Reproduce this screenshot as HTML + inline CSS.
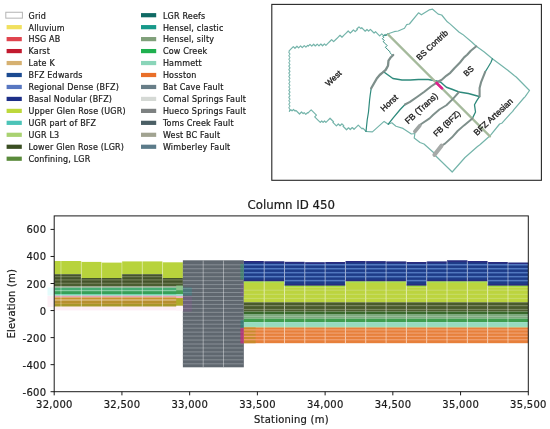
<!DOCTYPE html>
<html><head><meta charset="utf-8"><title>Column ID 450</title>
<style>html,body{margin:0;padding:0;background:#fff;width:550px;height:429px;overflow:hidden}svg{display:block;filter:blur(0.3px)}
text{fill:#1a1a1a;font-variant-ligatures:none;font-kerning:normal}</style></head>
<body>
<svg width="550" height="429" viewBox="0 0 550 429" font-family="'DejaVu Sans', 'Liberation Sans', sans-serif" fill="#1a1a1a"><defs><clipPath id="axclip"><rect x="54.2" y="215.9" width="474.1" height="175.8"/></clipPath></defs><rect width="550" height="429" fill="#fff"/><rect x="5.8" y="12.25" width="16.6" height="5.9" fill="#fff" stroke="#b4b4b4" stroke-width="1"/>
<text x="28.5" y="18.55" font-size="8" letter-spacing="0.19" stroke="#1a1a1a" stroke-width="0.2">Grid</text>
<rect x="6.6" y="25.06" width="15.2" height="4.2" fill="#f1e05e"/>
<text x="28.5" y="30.51" font-size="8" letter-spacing="0.19" stroke="#1a1a1a" stroke-width="0.2">Alluvium</text>
<rect x="6.6" y="37.02" width="15.2" height="4.2" fill="#e0444e"/>
<text x="28.5" y="42.47" font-size="8" letter-spacing="0.19" stroke="#1a1a1a" stroke-width="0.2">HSG AB</text>
<rect x="6.6" y="48.98" width="15.2" height="4.2" fill="#c21a2f"/>
<text x="28.5" y="54.43" font-size="8" letter-spacing="0.19" stroke="#1a1a1a" stroke-width="0.2">Karst</text>
<rect x="6.6" y="60.94" width="15.2" height="4.2" fill="#d6b171"/>
<text x="28.5" y="66.39" font-size="8" letter-spacing="0.19" stroke="#1a1a1a" stroke-width="0.2">Late K</text>
<rect x="6.6" y="72.9" width="15.2" height="4.2" fill="#1b4a91"/>
<text x="28.5" y="78.35" font-size="8" letter-spacing="0.19" stroke="#1a1a1a" stroke-width="0.2">BFZ Edwards</text>
<rect x="6.6" y="84.86" width="15.2" height="4.2" fill="#5877c1"/>
<text x="28.5" y="90.31" font-size="8" letter-spacing="0.19" stroke="#1a1a1a" stroke-width="0.2">Regional Dense (BFZ)</text>
<rect x="6.6" y="96.82" width="15.2" height="4.2" fill="#1d2f88"/>
<text x="28.5" y="102.27" font-size="8" letter-spacing="0.19" stroke="#1a1a1a" stroke-width="0.2">Basal Nodular (BFZ)</text>
<rect x="6.6" y="108.78" width="15.2" height="4.2" fill="#bdd83b"/>
<text x="28.5" y="114.23" font-size="8" letter-spacing="0.19" stroke="#1a1a1a" stroke-width="0.2">Upper Glen Rose (UGR)</text>
<rect x="6.6" y="120.74" width="15.2" height="4.2" fill="#4cc4b8"/>
<text x="28.5" y="126.19" font-size="8" letter-spacing="0.19" stroke="#1a1a1a" stroke-width="0.2">UGR part of BFZ</text>
<rect x="6.6" y="132.7" width="15.2" height="4.2" fill="#a9d271"/>
<text x="28.5" y="138.15" font-size="8" letter-spacing="0.19" stroke="#1a1a1a" stroke-width="0.2">UGR L3</text>
<rect x="6.6" y="144.66" width="15.2" height="4.2" fill="#3a4e22"/>
<text x="28.5" y="150.11" font-size="8" letter-spacing="0.19" stroke="#1a1a1a" stroke-width="0.2">Lower Glen Rose (LGR)</text>
<rect x="6.6" y="156.62" width="15.2" height="4.2" fill="#5a8b3b"/>
<text x="28.5" y="162.07" font-size="8" letter-spacing="0.19" stroke="#1a1a1a" stroke-width="0.2">Confining, LGR</text>
<rect x="141" y="13.1" width="15.2" height="4.2" fill="#0f6a64"/>
<text x="162.9" y="18.55" font-size="8" letter-spacing="0.19" stroke="#1a1a1a" stroke-width="0.2">LGR Reefs</text>
<rect x="141" y="25.06" width="15.2" height="4.2" fill="#17998a"/>
<text x="162.9" y="30.51" font-size="8" letter-spacing="0.19" stroke="#1a1a1a" stroke-width="0.2">Hensel, clastic</text>
<rect x="141" y="37.02" width="15.2" height="4.2" fill="#80a07a"/>
<text x="162.9" y="42.47" font-size="8" letter-spacing="0.19" stroke="#1a1a1a" stroke-width="0.2">Hensel, silty</text>
<rect x="141" y="48.98" width="15.2" height="4.2" fill="#1fb04f"/>
<text x="162.9" y="54.43" font-size="8" letter-spacing="0.19" stroke="#1a1a1a" stroke-width="0.2">Cow Creek</text>
<rect x="141" y="60.94" width="15.2" height="4.2" fill="#8ad5b9"/>
<text x="162.9" y="66.39" font-size="8" letter-spacing="0.19" stroke="#1a1a1a" stroke-width="0.2">Hammett</text>
<rect x="141" y="72.9" width="15.2" height="4.2" fill="#e96f29"/>
<text x="162.9" y="78.35" font-size="8" letter-spacing="0.19" stroke="#1a1a1a" stroke-width="0.2">Hosston</text>
<rect x="141" y="84.86" width="15.2" height="4.2" fill="#687e88"/>
<text x="162.9" y="90.31" font-size="8" letter-spacing="0.19" stroke="#1a1a1a" stroke-width="0.2">Bat Cave Fault</text>
<rect x="141" y="96.82" width="15.2" height="4.2" fill="#d5d9d5"/>
<text x="162.9" y="102.27" font-size="8" letter-spacing="0.19" stroke="#1a1a1a" stroke-width="0.2">Comal Springs Fault</text>
<rect x="141" y="108.78" width="15.2" height="4.2" fill="#7d8181"/>
<text x="162.9" y="114.23" font-size="8" letter-spacing="0.19" stroke="#1a1a1a" stroke-width="0.2">Hueco Springs Fault</text>
<rect x="141" y="120.74" width="15.2" height="4.2" fill="#4b5f65"/>
<text x="162.9" y="126.19" font-size="8" letter-spacing="0.19" stroke="#1a1a1a" stroke-width="0.2">Toms Creek Fault</text>
<rect x="141" y="132.7" width="15.2" height="4.2" fill="#a1a391"/>
<text x="162.9" y="138.15" font-size="8" letter-spacing="0.19" stroke="#1a1a1a" stroke-width="0.2">West BC Fault</text>
<rect x="141" y="144.66" width="15.2" height="4.2" fill="#5b7b89"/>
<text x="162.9" y="150.11" font-size="8" letter-spacing="0.19" stroke="#1a1a1a" stroke-width="0.2">Wimberley Fault</text>
<rect x="271.8" y="4.4" width="269.6" height="175.9" fill="#fff" stroke="#262626" stroke-width="1.1"/>
<path d="M387.5 34 L386.1 35.4 L385.2 34.5 L383.8 35.9 L381.73 33.83 L379.68 35.88 L377.6 33.8 L375.5 31.7 L374.1 33.1 L372 31 L370.37 29.37 L368.62 31.12 L366.98 29.48 L365.23 31.23 L363.6 29.6 L361.75 27.75 L360.85 28.65 L359 26.8 L356.82 28.98 L357.38 29.52 L355.2 31.7 L353.45 29.95 L352.4 31 L350.3 33.1 L348.2 31 L346.1 33.1 L344 35.2 L341.98 37.23 L340.03 35.27 L338 37.3 L335.8 39.5 L333.6 41.7 L331.6 39.7 L330.3 41 L328.1 43.2 L325.9 45.4 L324.44 43.94 L322.59 45.79 L320.83 44.03 L318.98 45.88 L317.22 44.12 L315.37 45.97 L313.61 44.21 L311.76 46.06 L310 44.3 L308.25 46.05 L307.65 45.45 L305.9 47.2 L304.25 45.55 L302.25 47.55 L300.6 45.9 L298.6 47.9 L296.95 46.25 L294.95 48.25 L293.3 46.6 L291.32 48.58 L289.35 50.55" fill="none" stroke="#74b4aa" stroke-width="1.2" stroke-linejoin="round" stroke-linecap="round"/>
<path d="M289.4 50.6 L288.8 52.33 L290 54.06 L288.8 55.79 L290 57.53 L288.8 59.26 L290 60.99 L288.8 62.72 L290 64.45 L288.8 66.18 L290 67.91 L288.8 69.65 L290 71.38 L288.8 73.11 L290 74.84 L288.8 76.57 L290 78.3 L288.8 80.03 L290 81.77 L288.8 83.5 L290 85.23 L288.8 86.96 L290 88.69 L288.8 90.42 L290 92.15 L288.8 93.89 L290 95.62 L288.8 97.35 L290 99.08 L288.8 100.81 L290 102.54 L288.8 104.27 L290 106.01 L288.8 107.74 L290 109.47 L289.4 111.2" fill="none" stroke="#7ab6ae" stroke-width="1.1" stroke-linejoin="round" stroke-linecap="round"/>
<path d="M289.4 111.2 L290.85 109.75 L292.05 110.95 L293.5 109.5 L295.12 111.12 L295.88 110.38 L297.5 112 L299.5 114 L301.5 112 L303.15 113.65 L304.15 112.65 L305.8 114.3 L307.45 112.65 L307.9 113.1 L309.55 111.45 L311.2 109.8 L312.95 111.55 L314.7 113.3 L316.45 115.05 L314.7 116.8 L316.45 118.55 L318.2 120.3 L320.3 122.4 L321.7 121 L323.1 122.4 L324.5 121 L325.9 122.4 L327.97 120.33 L330.05 118.25 L331.76 119.96 L333.52 121.73 L332.87 122.38 L334.64 124.14 L336.4 125.9 L338.32 123.97 L340.07 125.72 L342 123.8 L343.75 125.55 L343.05 126.25 L344.8 128 L346.55 129.75 L348.53 127.77 L350.28 129.52 L352.27 127.53 L354.02 129.28 L356 127.3 L358.25 125.05 L360.25 127.05 L362.1 128.9 L362.85 128.15 L364.7 130 L366.1 131.4" fill="none" stroke="#74b4aa" stroke-width="1.2" stroke-linejoin="round" stroke-linecap="round"/>
<path d="M366 131.5 L372.4 131.9 L384.1 121.4 L388.3 124.2 L391.8 122.8 L396 126.3 L403 128.4 L411.4 134 L414.9 133.5 L414.2 138 L420 142.5 L424 144 L433.8 152.7 L434.5 154.8 L452.2 172 L465 157.5 L477.5 146.5 L479.6 145 L490.6 135.2 L499.6 124 L501.7 123.3 L510 114.2 L512.7 111.4 L513.9 109.6 L523.8 98 L525 96.8 L529.5 90.5 L516.2 77 L514.5 75.8 L507.5 70 L506.4 69.2 L500.8 65 L492.4 58.7 L484 51.7 L476.3 46.3 L471.7 42 L462.7 34.4 L459.2 32.3 L450 23.9 L447.3 21.8 L441.7 15 L438.2 14.1 L432.6 9.2 L429.1 9.9 L421.4 14.8 L418.5 12.8 L409.4 24 L406.6 24.7 L404.5 28.2 L398.2 31 L394 31.7 L387.5 34" fill="none" stroke="#74b4aa" stroke-width="1.2" stroke-linejoin="round" stroke-linecap="round"/>
<path d="M387.5 34 L385.73 35.77 L384.78 34.83 L383 36.6 L383.75 37.35 L382.4 38.7 L384.32 40.63 L383.27 41.67 L385.2 43.6 L387.12 45.53 L385.38 47.27 L387.3 49.2 L389.75 51.65 L389.4 52 L391 53.6 L392.6 55.2" fill="none" stroke="#2e8a7c" stroke-width="1" stroke-linejoin="round" stroke-linecap="round"/>
<path d="M371.2 88.3 L370.2 95 L369.6 100 L368.5 112 L367.2 120 L366 131.5" fill="none" stroke="#2e8a7c" stroke-width="1.2" stroke-linejoin="round" stroke-linecap="round"/>
<path d="M384.6 72.5 L392.9 78.5 L402 79.9 L410.3 79.9 L418.4 79.5 L428.2 79.5 L436.6 80.9 L440.8 82.3 L446.4 87.2 L452 89.3 L459 92 L468.4 93.6 L479.2 96.4" fill="none" stroke="#2e8a7c" stroke-width="1.5" stroke-linejoin="round" stroke-linecap="round"/>
<path d="M405 104.5 L400.2 109.5 L393.2 117.9 L388.3 124.2" fill="none" stroke="#2e8a7c" stroke-width="1.3" stroke-linejoin="round" stroke-linecap="round"/>
<path d="M492.4 58.7 L491 62.2 L488.2 67 L485.2 71.9" fill="none" stroke="#2e8a7c" stroke-width="1.2" stroke-linejoin="round" stroke-linecap="round"/>
<path d="M479.6 96.4 L476.8 100.6 L474.5 104.8 L475.5 112 L472.4 118.4" fill="none" stroke="#2e8a7c" stroke-width="1.3" stroke-linejoin="round" stroke-linecap="round"/>
<path d="M388 34.4 L490 136.4" fill="none" stroke="#a5ba9c" stroke-width="2.2" stroke-linejoin="round" stroke-linecap="round" stroke-linecap="butt"/>
<path d="M393.2 55 L390.4 57.8 L388.5 60.6 L388 65.7 L385.7 69.9 L382.5 72.7 L379.7 75 L376.8 78.5 L371.2 88.3" fill="none" stroke="#7e8f8b" stroke-width="2.3" stroke-linejoin="round" stroke-linecap="round"/>
<path d="M476.3 46.3 L470.8 50.7 L467.2 54.8 L464.1 57.4 L460 62.5 L454.4 68.2 L450.3 72.8 L446.2 75.8 L441.5 80 L438.7 81.3 L431 86.5 L424 92 L417 97 L410 101.9 L405 104.5" fill="none" stroke="#7e8f8b" stroke-width="2.1" stroke-linejoin="round" stroke-linecap="round"/>
<path d="M485.2 71.9 L481 82.4 L479.6 88 L479.6 96.4" fill="none" stroke="#7e8f8b" stroke-width="2.1" stroke-linejoin="round" stroke-linecap="round"/>
<path d="M472.4 118.4 L464 125.4 L457.6 131 L452 137.3 L445 143.6 L441.5 145.7" fill="none" stroke="#7e8f8b" stroke-width="1.9" stroke-linejoin="round" stroke-linecap="round"/>
<path d="M441.5 145.7 L434.5 154.8" fill="none" stroke="#a6aaa8" stroke-width="4.2" stroke-linejoin="round" stroke-linecap="round" stroke-linecap="butt"/>
<path d="M459 92 L453.4 98.4 L446.4 105.3 L439.4 109.5 L433 115 L429.6 118.4 L421.2 124 L419.8 125.6" fill="none" stroke="#7e8f8b" stroke-width="1.9" stroke-linejoin="round" stroke-linecap="round"/>
<path d="M419.8 125.6 L414.9 131.5" fill="none" stroke="#9ea4a2" stroke-width="3.6" stroke-linejoin="round" stroke-linecap="round" stroke-linecap="butt"/>
<path d="M436.6 83 L442 88.4" fill="none" stroke="#e0208c" stroke-width="2.7" stroke-linejoin="round" stroke-linecap="round" stroke-linecap="butt"/>
<text x="0" y="0" font-family="Liberation Sans, Arial, sans-serif" stroke="#1a1a1a" stroke-width="0.32" font-size="8.2" text-anchor="middle" dominant-baseline="central" transform="translate(333.6 78.5) rotate(-43)">West</text>
<text x="0" y="0" font-family="Liberation Sans, Arial, sans-serif" stroke="#1a1a1a" stroke-width="0.32" font-size="8.2" text-anchor="middle" dominant-baseline="central" transform="translate(432.3 45.3) rotate(-43)">BS Contrib</text>
<text x="0" y="0" font-family="Liberation Sans, Arial, sans-serif" stroke="#1a1a1a" stroke-width="0.32" font-size="8" text-anchor="middle" dominant-baseline="central" transform="translate(468.8 71.3) rotate(-43)">BS</text>
<text x="0" y="0" font-family="Liberation Sans, Arial, sans-serif" stroke="#1a1a1a" stroke-width="0.32" font-size="8.4" text-anchor="middle" dominant-baseline="central" transform="translate(389.1 102.9) rotate(-43)">Horst</text>
<text x="0" y="0" font-family="Liberation Sans, Arial, sans-serif" stroke="#1a1a1a" stroke-width="0.32" font-size="8.7" text-anchor="middle" dominant-baseline="central" transform="translate(421.25 108.3) rotate(-43)">FB (Trans)</text>
<text x="0" y="0" font-family="Liberation Sans, Arial, sans-serif" stroke="#1a1a1a" stroke-width="0.32" font-size="8.2" text-anchor="middle" dominant-baseline="central" transform="translate(447 123.7) rotate(-43)">FB (BFZ)</text>
<text x="0" y="0" font-family="Liberation Sans, Arial, sans-serif" stroke="#1a1a1a" stroke-width="0.32" font-size="8.6" text-anchor="middle" dominant-baseline="central" transform="translate(493.2 116.8) rotate(-43)">BFZ Artesian</text>
<g clip-path="url(#axclip)">
</g>
<rect x="54.2" y="261" width="6.77" height="13.2" fill="#b8d33c"/>
<rect x="54.2" y="274.2" width="6.77" height="12" fill="#43532a"/>
<rect x="54.2" y="284" width="6.77" height="2.2" fill="#4b5e31"/>
<rect x="54.2" y="275.95" width="6.77" height="1.3" fill="#6e7b54"/>
<rect x="54.2" y="279.25" width="6.77" height="1.3" fill="#6e7b54"/>
<rect x="54.2" y="282.65" width="6.77" height="1.3" fill="#6e7b54"/>
<rect x="54.2" y="286.2" width="6.77" height="1.4" fill="#98a088"/>
<rect x="54.2" y="287.6" width="6.77" height="2.7" fill="#47ad74"/>
<rect x="54.2" y="290.3" width="6.77" height="0.8" fill="#6cc08e"/>
<rect x="54.2" y="291.1" width="6.77" height="2.9" fill="#37a058"/>
<rect x="54.2" y="294" width="6.77" height="1.7" fill="#74d6b1"/>
<rect x="54.2" y="295.7" width="6.77" height="1.7" fill="#e8a2b2"/>
<rect x="54.2" y="297.4" width="6.77" height="2.2" fill="#c6922f"/>
<rect x="54.2" y="299.6" width="6.77" height="1" fill="#d0a04c"/>
<rect x="54.2" y="300.6" width="6.77" height="2.4" fill="#b78f2e"/>
<rect x="54.2" y="303" width="6.77" height="1" fill="#c29c44"/>
<rect x="54.2" y="304" width="6.77" height="2.7" fill="#a6962a"/>
<rect x="54.2" y="306.7" width="6.77" height="3.7" fill="#fdeef5"/>
<rect x="60.97" y="261" width="20.32" height="13.2" fill="#b8d33c"/>
<rect x="60.97" y="274.2" width="20.32" height="12" fill="#43532a"/>
<rect x="60.97" y="284" width="20.32" height="2.2" fill="#4b5e31"/>
<rect x="60.97" y="275.95" width="20.32" height="1.3" fill="#6e7b54"/>
<rect x="60.97" y="279.25" width="20.32" height="1.3" fill="#6e7b54"/>
<rect x="60.97" y="282.65" width="20.32" height="1.3" fill="#6e7b54"/>
<rect x="60.97" y="286.2" width="20.32" height="1.4" fill="#98a088"/>
<rect x="60.97" y="287.6" width="20.32" height="2.7" fill="#47ad74"/>
<rect x="60.97" y="290.3" width="20.32" height="0.8" fill="#6cc08e"/>
<rect x="60.97" y="291.1" width="20.32" height="2.9" fill="#37a058"/>
<rect x="60.97" y="294" width="20.32" height="1.7" fill="#74d6b1"/>
<rect x="60.97" y="295.7" width="20.32" height="1.7" fill="#e8a2b2"/>
<rect x="60.97" y="297.4" width="20.32" height="2.2" fill="#c6922f"/>
<rect x="60.97" y="299.6" width="20.32" height="1" fill="#d0a04c"/>
<rect x="60.97" y="300.6" width="20.32" height="2.4" fill="#b78f2e"/>
<rect x="60.97" y="303" width="20.32" height="1" fill="#c29c44"/>
<rect x="60.97" y="304" width="20.32" height="2.7" fill="#a6962a"/>
<rect x="60.97" y="306.7" width="20.32" height="3.7" fill="#fdeef5"/>
<rect x="81.29" y="261.9" width="20.32" height="16.1" fill="#b8d33c"/>
<rect x="81.29" y="278" width="20.32" height="8.2" fill="#43532a"/>
<rect x="81.29" y="284" width="20.32" height="2.2" fill="#4b5e31"/>
<rect x="81.29" y="279.25" width="20.32" height="1.3" fill="#6e7b54"/>
<rect x="81.29" y="282.65" width="20.32" height="1.3" fill="#6e7b54"/>
<rect x="81.29" y="286.2" width="20.32" height="1.4" fill="#98a088"/>
<rect x="81.29" y="287.6" width="20.32" height="2.7" fill="#47ad74"/>
<rect x="81.29" y="290.3" width="20.32" height="0.8" fill="#6cc08e"/>
<rect x="81.29" y="291.1" width="20.32" height="2.9" fill="#37a058"/>
<rect x="81.29" y="294" width="20.32" height="1.7" fill="#74d6b1"/>
<rect x="81.29" y="295.7" width="20.32" height="1.7" fill="#e8a2b2"/>
<rect x="81.29" y="297.4" width="20.32" height="2.2" fill="#c6922f"/>
<rect x="81.29" y="299.6" width="20.32" height="1" fill="#d0a04c"/>
<rect x="81.29" y="300.6" width="20.32" height="2.4" fill="#b78f2e"/>
<rect x="81.29" y="303" width="20.32" height="1" fill="#c29c44"/>
<rect x="81.29" y="304" width="20.32" height="2.7" fill="#a6962a"/>
<rect x="81.29" y="306.7" width="20.32" height="3.7" fill="#fdeef5"/>
<rect x="101.61" y="262.6" width="20.32" height="15.4" fill="#b8d33c"/>
<rect x="101.61" y="278" width="20.32" height="8.2" fill="#43532a"/>
<rect x="101.61" y="284" width="20.32" height="2.2" fill="#4b5e31"/>
<rect x="101.61" y="279.25" width="20.32" height="1.3" fill="#6e7b54"/>
<rect x="101.61" y="282.65" width="20.32" height="1.3" fill="#6e7b54"/>
<rect x="101.61" y="286.2" width="20.32" height="1.4" fill="#98a088"/>
<rect x="101.61" y="287.6" width="20.32" height="2.7" fill="#47ad74"/>
<rect x="101.61" y="290.3" width="20.32" height="0.8" fill="#6cc08e"/>
<rect x="101.61" y="291.1" width="20.32" height="2.9" fill="#37a058"/>
<rect x="101.61" y="294" width="20.32" height="1.7" fill="#74d6b1"/>
<rect x="101.61" y="295.7" width="20.32" height="1.7" fill="#e8a2b2"/>
<rect x="101.61" y="297.4" width="20.32" height="2.2" fill="#c6922f"/>
<rect x="101.61" y="299.6" width="20.32" height="1" fill="#d0a04c"/>
<rect x="101.61" y="300.6" width="20.32" height="2.4" fill="#b78f2e"/>
<rect x="101.61" y="303" width="20.32" height="1" fill="#c29c44"/>
<rect x="101.61" y="304" width="20.32" height="2.7" fill="#a6962a"/>
<rect x="101.61" y="306.7" width="20.32" height="3.7" fill="#fdeef5"/>
<rect x="121.93" y="261.4" width="20.32" height="12.8" fill="#b8d33c"/>
<rect x="121.93" y="274.2" width="20.32" height="12" fill="#43532a"/>
<rect x="121.93" y="284" width="20.32" height="2.2" fill="#4b5e31"/>
<rect x="121.93" y="275.95" width="20.32" height="1.3" fill="#6e7b54"/>
<rect x="121.93" y="279.25" width="20.32" height="1.3" fill="#6e7b54"/>
<rect x="121.93" y="282.65" width="20.32" height="1.3" fill="#6e7b54"/>
<rect x="121.93" y="286.2" width="20.32" height="1.4" fill="#98a088"/>
<rect x="121.93" y="287.6" width="20.32" height="2.7" fill="#47ad74"/>
<rect x="121.93" y="290.3" width="20.32" height="0.8" fill="#6cc08e"/>
<rect x="121.93" y="291.1" width="20.32" height="2.9" fill="#37a058"/>
<rect x="121.93" y="294" width="20.32" height="1.7" fill="#74d6b1"/>
<rect x="121.93" y="295.7" width="20.32" height="1.7" fill="#e8a2b2"/>
<rect x="121.93" y="297.4" width="20.32" height="2.2" fill="#c6922f"/>
<rect x="121.93" y="299.6" width="20.32" height="1" fill="#d0a04c"/>
<rect x="121.93" y="300.6" width="20.32" height="2.4" fill="#b78f2e"/>
<rect x="121.93" y="303" width="20.32" height="1" fill="#c29c44"/>
<rect x="121.93" y="304" width="20.32" height="2.7" fill="#a6962a"/>
<rect x="121.93" y="306.7" width="20.32" height="3.7" fill="#fdeef5"/>
<rect x="142.25" y="261.4" width="20.32" height="12.8" fill="#b8d33c"/>
<rect x="142.25" y="274.2" width="20.32" height="12" fill="#43532a"/>
<rect x="142.25" y="284" width="20.32" height="2.2" fill="#4b5e31"/>
<rect x="142.25" y="275.95" width="20.32" height="1.3" fill="#6e7b54"/>
<rect x="142.25" y="279.25" width="20.32" height="1.3" fill="#6e7b54"/>
<rect x="142.25" y="282.65" width="20.32" height="1.3" fill="#6e7b54"/>
<rect x="142.25" y="286.2" width="20.32" height="1.4" fill="#98a088"/>
<rect x="142.25" y="287.6" width="20.32" height="2.7" fill="#47ad74"/>
<rect x="142.25" y="290.3" width="20.32" height="0.8" fill="#6cc08e"/>
<rect x="142.25" y="291.1" width="20.32" height="2.9" fill="#37a058"/>
<rect x="142.25" y="294" width="20.32" height="1.7" fill="#74d6b1"/>
<rect x="142.25" y="295.7" width="20.32" height="1.7" fill="#e8a2b2"/>
<rect x="142.25" y="297.4" width="20.32" height="2.2" fill="#c6922f"/>
<rect x="142.25" y="299.6" width="20.32" height="1" fill="#d0a04c"/>
<rect x="142.25" y="300.6" width="20.32" height="2.4" fill="#b78f2e"/>
<rect x="142.25" y="303" width="20.32" height="1" fill="#c29c44"/>
<rect x="142.25" y="304" width="20.32" height="2.7" fill="#a6962a"/>
<rect x="142.25" y="306.7" width="20.32" height="3.7" fill="#fdeef5"/>
<rect x="162.57" y="262.3" width="20.32" height="15.7" fill="#b8d33c"/>
<rect x="162.57" y="278" width="20.32" height="8.2" fill="#43532a"/>
<rect x="162.57" y="284" width="20.32" height="2.2" fill="#4b5e31"/>
<rect x="162.57" y="279.25" width="20.32" height="1.3" fill="#6e7b54"/>
<rect x="162.57" y="282.65" width="20.32" height="1.3" fill="#6e7b54"/>
<rect x="162.57" y="286.2" width="20.32" height="1.4" fill="#98a088"/>
<rect x="162.57" y="287.6" width="20.32" height="2.7" fill="#47ad74"/>
<rect x="162.57" y="290.3" width="20.32" height="0.8" fill="#6cc08e"/>
<rect x="162.57" y="291.1" width="20.32" height="2.9" fill="#37a058"/>
<rect x="162.57" y="294" width="20.32" height="1.7" fill="#74d6b1"/>
<rect x="162.57" y="295.7" width="20.32" height="1.7" fill="#e8a2b2"/>
<rect x="162.57" y="297.4" width="20.32" height="2.2" fill="#c6922f"/>
<rect x="162.57" y="299.6" width="20.32" height="1" fill="#d0a04c"/>
<rect x="162.57" y="300.6" width="20.32" height="2.4" fill="#b78f2e"/>
<rect x="162.57" y="303" width="20.32" height="1" fill="#c29c44"/>
<rect x="162.57" y="304" width="20.32" height="2.7" fill="#a6962a"/>
<rect x="162.57" y="306.7" width="14.32" height="3.7" fill="#fdeef5"/>
<rect x="182.88" y="260.3" width="60.96" height="107" fill="#5f676f"/>
<rect x="182.88" y="264.3" width="60.96" height="1" fill="#878e95"/>
<rect x="182.88" y="268.26" width="60.96" height="1" fill="#878e95"/>
<rect x="182.88" y="272.22" width="60.96" height="1" fill="#878e95"/>
<rect x="182.88" y="276.18" width="60.96" height="1" fill="#878e95"/>
<rect x="182.88" y="280.14" width="60.96" height="1" fill="#878e95"/>
<rect x="182.88" y="284.1" width="60.96" height="1" fill="#878e95"/>
<rect x="182.88" y="288.06" width="60.96" height="1" fill="#878e95"/>
<rect x="182.88" y="292.02" width="60.96" height="1" fill="#878e95"/>
<rect x="182.88" y="295.98" width="60.96" height="1" fill="#878e95"/>
<rect x="182.88" y="299.94" width="60.96" height="1" fill="#878e95"/>
<rect x="182.88" y="303.9" width="60.96" height="1" fill="#878e95"/>
<rect x="182.88" y="307.86" width="60.96" height="1" fill="#878e95"/>
<rect x="182.88" y="311.82" width="60.96" height="1" fill="#878e95"/>
<rect x="182.88" y="315.78" width="60.96" height="1" fill="#878e95"/>
<rect x="182.88" y="319.74" width="60.96" height="1" fill="#878e95"/>
<rect x="182.88" y="323.7" width="60.96" height="1" fill="#878e95"/>
<rect x="182.88" y="327.66" width="60.96" height="1" fill="#878e95"/>
<rect x="182.88" y="331.62" width="60.96" height="1" fill="#878e95"/>
<rect x="182.88" y="335.58" width="60.96" height="1" fill="#878e95"/>
<rect x="182.88" y="339.54" width="60.96" height="1" fill="#878e95"/>
<rect x="182.88" y="343.5" width="60.96" height="1" fill="#878e95"/>
<rect x="182.88" y="347.46" width="60.96" height="1" fill="#878e95"/>
<rect x="182.88" y="351.42" width="60.96" height="1" fill="#878e95"/>
<rect x="182.88" y="355.38" width="60.96" height="1" fill="#878e95"/>
<rect x="182.88" y="359.34" width="60.96" height="1" fill="#878e95"/>
<rect x="182.88" y="363.3" width="60.96" height="1" fill="#878e95"/>
<rect x="243.84" y="261" width="20.32" height="20.4" fill="#1e3c88"/>
<rect x="243.84" y="261" width="20.32" height="1.6" fill="#2a2c80"/>
<rect x="243.84" y="279.8" width="20.32" height="1.6" fill="#2a2c80"/>
<rect x="243.84" y="264" width="20.32" height="1.5" fill="#5279c0"/>
<rect x="243.84" y="267.97" width="20.32" height="1.5" fill="#5279c0"/>
<rect x="243.84" y="271.94" width="20.32" height="1.5" fill="#5279c0"/>
<rect x="243.84" y="275.91" width="20.32" height="1.5" fill="#5279c0"/>
<rect x="243.84" y="281.4" width="20.32" height="1.5" fill="#a4db3e"/>
<rect x="243.84" y="282.9" width="20.32" height="19.4" fill="#bcd43e"/>
<rect x="243.84" y="289.7" width="20.32" height="1" fill="#c8dc6a"/>
<rect x="243.84" y="293.8" width="20.32" height="1" fill="#c8dc6a"/>
<rect x="243.84" y="297.9" width="20.32" height="1" fill="#c8dc6a"/>
<rect x="243.84" y="302.3" width="20.32" height="9.2" fill="#4a5a2c"/>
<rect x="243.84" y="305" width="20.32" height="1.2" fill="#7a8660"/>
<rect x="243.84" y="308.9" width="20.32" height="1.2" fill="#7a8660"/>
<rect x="243.84" y="311.5" width="20.32" height="2.5" fill="#3a6a2c"/>
<rect x="243.84" y="314" width="20.32" height="4.6" fill="#7eaa7e"/>
<rect x="243.84" y="316.2" width="20.32" height="0.8" fill="#a0c0a0"/>
<rect x="243.84" y="318.6" width="20.32" height="3.5" fill="#3f9e4e"/>
<rect x="243.84" y="322.1" width="20.32" height="4.7" fill="#96dbc0"/>
<rect x="243.84" y="326.8" width="20.32" height="0.7" fill="#78d070"/>
<rect x="243.84" y="327.5" width="20.32" height="15.7" fill="#e7803b"/>
<rect x="243.84" y="327.5" width="11.8" height="15.7" fill="#c98b2c"/>
<rect x="243.84" y="329.3" width="20.32" height="1.2" fill="#f0a070"/>
<rect x="243.84" y="332.5" width="20.32" height="1.2" fill="#f0a070"/>
<rect x="243.84" y="335.8" width="20.32" height="1.2" fill="#f0a070"/>
<rect x="243.84" y="339.1" width="20.32" height="1.2" fill="#f0a070"/>
<rect x="264.16" y="261.5" width="20.32" height="19.9" fill="#1e3c88"/>
<rect x="264.16" y="261.5" width="20.32" height="1.6" fill="#2a2c80"/>
<rect x="264.16" y="279.8" width="20.32" height="1.6" fill="#2a2c80"/>
<rect x="264.16" y="264" width="20.32" height="1.5" fill="#5279c0"/>
<rect x="264.16" y="267.97" width="20.32" height="1.5" fill="#5279c0"/>
<rect x="264.16" y="271.94" width="20.32" height="1.5" fill="#5279c0"/>
<rect x="264.16" y="275.91" width="20.32" height="1.5" fill="#5279c0"/>
<rect x="264.16" y="281.4" width="20.32" height="1.5" fill="#a4db3e"/>
<rect x="264.16" y="282.9" width="20.32" height="19.4" fill="#bcd43e"/>
<rect x="264.16" y="289.7" width="20.32" height="1" fill="#c8dc6a"/>
<rect x="264.16" y="293.8" width="20.32" height="1" fill="#c8dc6a"/>
<rect x="264.16" y="297.9" width="20.32" height="1" fill="#c8dc6a"/>
<rect x="264.16" y="302.3" width="20.32" height="9.2" fill="#4a5a2c"/>
<rect x="264.16" y="305" width="20.32" height="1.2" fill="#7a8660"/>
<rect x="264.16" y="308.9" width="20.32" height="1.2" fill="#7a8660"/>
<rect x="264.16" y="311.5" width="20.32" height="2.5" fill="#3a6a2c"/>
<rect x="264.16" y="314" width="20.32" height="4.6" fill="#7eaa7e"/>
<rect x="264.16" y="316.2" width="20.32" height="0.8" fill="#a0c0a0"/>
<rect x="264.16" y="318.6" width="20.32" height="3.5" fill="#3f9e4e"/>
<rect x="264.16" y="322.1" width="20.32" height="4.7" fill="#96dbc0"/>
<rect x="264.16" y="326.8" width="20.32" height="0.7" fill="#78d070"/>
<rect x="264.16" y="327.5" width="20.32" height="15.7" fill="#e7803b"/>
<rect x="264.16" y="329.3" width="20.32" height="1.2" fill="#f0a070"/>
<rect x="264.16" y="332.5" width="20.32" height="1.2" fill="#f0a070"/>
<rect x="264.16" y="335.8" width="20.32" height="1.2" fill="#f0a070"/>
<rect x="264.16" y="339.1" width="20.32" height="1.2" fill="#f0a070"/>
<rect x="284.48" y="261.9" width="20.32" height="23.8" fill="#1e3c88"/>
<rect x="284.48" y="261.9" width="20.32" height="1.6" fill="#2a2c80"/>
<rect x="284.48" y="284.1" width="20.32" height="1.6" fill="#2a2c80"/>
<rect x="284.48" y="264" width="20.32" height="1.5" fill="#5279c0"/>
<rect x="284.48" y="267.97" width="20.32" height="1.5" fill="#5279c0"/>
<rect x="284.48" y="271.94" width="20.32" height="1.5" fill="#5279c0"/>
<rect x="284.48" y="275.91" width="20.32" height="1.5" fill="#5279c0"/>
<rect x="284.48" y="279.88" width="20.32" height="1.5" fill="#5279c0"/>
<rect x="284.48" y="285.7" width="20.32" height="1.5" fill="#a4db3e"/>
<rect x="284.48" y="287.2" width="20.32" height="15.1" fill="#bcd43e"/>
<rect x="284.48" y="289.7" width="20.32" height="1" fill="#c8dc6a"/>
<rect x="284.48" y="293.8" width="20.32" height="1" fill="#c8dc6a"/>
<rect x="284.48" y="297.9" width="20.32" height="1" fill="#c8dc6a"/>
<rect x="284.48" y="302.3" width="20.32" height="9.2" fill="#4a5a2c"/>
<rect x="284.48" y="305" width="20.32" height="1.2" fill="#7a8660"/>
<rect x="284.48" y="308.9" width="20.32" height="1.2" fill="#7a8660"/>
<rect x="284.48" y="311.5" width="20.32" height="2.5" fill="#3a6a2c"/>
<rect x="284.48" y="314" width="20.32" height="4.6" fill="#7eaa7e"/>
<rect x="284.48" y="316.2" width="20.32" height="0.8" fill="#a0c0a0"/>
<rect x="284.48" y="318.6" width="20.32" height="3.5" fill="#3f9e4e"/>
<rect x="284.48" y="322.1" width="20.32" height="4.7" fill="#96dbc0"/>
<rect x="284.48" y="326.8" width="20.32" height="0.7" fill="#78d070"/>
<rect x="284.48" y="327.5" width="20.32" height="15.7" fill="#e7803b"/>
<rect x="284.48" y="329.3" width="20.32" height="1.2" fill="#f0a070"/>
<rect x="284.48" y="332.5" width="20.32" height="1.2" fill="#f0a070"/>
<rect x="284.48" y="335.8" width="20.32" height="1.2" fill="#f0a070"/>
<rect x="284.48" y="339.1" width="20.32" height="1.2" fill="#f0a070"/>
<rect x="304.8" y="262.4" width="20.32" height="23.3" fill="#1e3c88"/>
<rect x="304.8" y="262.4" width="20.32" height="1.6" fill="#2a2c80"/>
<rect x="304.8" y="284.1" width="20.32" height="1.6" fill="#2a2c80"/>
<rect x="304.8" y="264" width="20.32" height="1.5" fill="#5279c0"/>
<rect x="304.8" y="267.97" width="20.32" height="1.5" fill="#5279c0"/>
<rect x="304.8" y="271.94" width="20.32" height="1.5" fill="#5279c0"/>
<rect x="304.8" y="275.91" width="20.32" height="1.5" fill="#5279c0"/>
<rect x="304.8" y="279.88" width="20.32" height="1.5" fill="#5279c0"/>
<rect x="304.8" y="285.7" width="20.32" height="1.5" fill="#a4db3e"/>
<rect x="304.8" y="287.2" width="20.32" height="15.1" fill="#bcd43e"/>
<rect x="304.8" y="289.7" width="20.32" height="1" fill="#c8dc6a"/>
<rect x="304.8" y="293.8" width="20.32" height="1" fill="#c8dc6a"/>
<rect x="304.8" y="297.9" width="20.32" height="1" fill="#c8dc6a"/>
<rect x="304.8" y="302.3" width="20.32" height="9.2" fill="#4a5a2c"/>
<rect x="304.8" y="305" width="20.32" height="1.2" fill="#7a8660"/>
<rect x="304.8" y="308.9" width="20.32" height="1.2" fill="#7a8660"/>
<rect x="304.8" y="311.5" width="20.32" height="2.5" fill="#3a6a2c"/>
<rect x="304.8" y="314" width="20.32" height="4.6" fill="#7eaa7e"/>
<rect x="304.8" y="316.2" width="20.32" height="0.8" fill="#a0c0a0"/>
<rect x="304.8" y="318.6" width="20.32" height="3.5" fill="#3f9e4e"/>
<rect x="304.8" y="322.1" width="20.32" height="4.7" fill="#96dbc0"/>
<rect x="304.8" y="326.8" width="20.32" height="0.7" fill="#78d070"/>
<rect x="304.8" y="327.5" width="20.32" height="15.7" fill="#e7803b"/>
<rect x="304.8" y="329.3" width="20.32" height="1.2" fill="#f0a070"/>
<rect x="304.8" y="332.5" width="20.32" height="1.2" fill="#f0a070"/>
<rect x="304.8" y="335.8" width="20.32" height="1.2" fill="#f0a070"/>
<rect x="304.8" y="339.1" width="20.32" height="1.2" fill="#f0a070"/>
<rect x="325.11" y="262" width="20.32" height="23.7" fill="#1e3c88"/>
<rect x="325.11" y="262" width="20.32" height="1.6" fill="#2a2c80"/>
<rect x="325.11" y="284.1" width="20.32" height="1.6" fill="#2a2c80"/>
<rect x="325.11" y="264" width="20.32" height="1.5" fill="#5279c0"/>
<rect x="325.11" y="267.97" width="20.32" height="1.5" fill="#5279c0"/>
<rect x="325.11" y="271.94" width="20.32" height="1.5" fill="#5279c0"/>
<rect x="325.11" y="275.91" width="20.32" height="1.5" fill="#5279c0"/>
<rect x="325.11" y="279.88" width="20.32" height="1.5" fill="#5279c0"/>
<rect x="325.11" y="285.7" width="20.32" height="1.5" fill="#a4db3e"/>
<rect x="325.11" y="287.2" width="20.32" height="15.1" fill="#bcd43e"/>
<rect x="325.11" y="289.7" width="20.32" height="1" fill="#c8dc6a"/>
<rect x="325.11" y="293.8" width="20.32" height="1" fill="#c8dc6a"/>
<rect x="325.11" y="297.9" width="20.32" height="1" fill="#c8dc6a"/>
<rect x="325.11" y="302.3" width="20.32" height="9.2" fill="#4a5a2c"/>
<rect x="325.11" y="305" width="20.32" height="1.2" fill="#7a8660"/>
<rect x="325.11" y="308.9" width="20.32" height="1.2" fill="#7a8660"/>
<rect x="325.11" y="311.5" width="20.32" height="2.5" fill="#3a6a2c"/>
<rect x="325.11" y="314" width="20.32" height="4.6" fill="#7eaa7e"/>
<rect x="325.11" y="316.2" width="20.32" height="0.8" fill="#a0c0a0"/>
<rect x="325.11" y="318.6" width="20.32" height="3.5" fill="#3f9e4e"/>
<rect x="325.11" y="322.1" width="20.32" height="4.7" fill="#96dbc0"/>
<rect x="325.11" y="326.8" width="20.32" height="0.7" fill="#78d070"/>
<rect x="325.11" y="327.5" width="20.32" height="15.7" fill="#e7803b"/>
<rect x="325.11" y="329.3" width="20.32" height="1.2" fill="#f0a070"/>
<rect x="325.11" y="332.5" width="20.32" height="1.2" fill="#f0a070"/>
<rect x="325.11" y="335.8" width="20.32" height="1.2" fill="#f0a070"/>
<rect x="325.11" y="339.1" width="20.32" height="1.2" fill="#f0a070"/>
<rect x="345.43" y="261" width="20.32" height="20.4" fill="#1e3c88"/>
<rect x="345.43" y="261" width="20.32" height="1.6" fill="#2a2c80"/>
<rect x="345.43" y="279.8" width="20.32" height="1.6" fill="#2a2c80"/>
<rect x="345.43" y="264" width="20.32" height="1.5" fill="#5279c0"/>
<rect x="345.43" y="267.97" width="20.32" height="1.5" fill="#5279c0"/>
<rect x="345.43" y="271.94" width="20.32" height="1.5" fill="#5279c0"/>
<rect x="345.43" y="275.91" width="20.32" height="1.5" fill="#5279c0"/>
<rect x="345.43" y="281.4" width="20.32" height="1.5" fill="#a4db3e"/>
<rect x="345.43" y="282.9" width="20.32" height="19.4" fill="#bcd43e"/>
<rect x="345.43" y="289.7" width="20.32" height="1" fill="#c8dc6a"/>
<rect x="345.43" y="293.8" width="20.32" height="1" fill="#c8dc6a"/>
<rect x="345.43" y="297.9" width="20.32" height="1" fill="#c8dc6a"/>
<rect x="345.43" y="302.3" width="20.32" height="9.2" fill="#4a5a2c"/>
<rect x="345.43" y="305" width="20.32" height="1.2" fill="#7a8660"/>
<rect x="345.43" y="308.9" width="20.32" height="1.2" fill="#7a8660"/>
<rect x="345.43" y="311.5" width="20.32" height="2.5" fill="#3a6a2c"/>
<rect x="345.43" y="314" width="20.32" height="4.6" fill="#7eaa7e"/>
<rect x="345.43" y="316.2" width="20.32" height="0.8" fill="#a0c0a0"/>
<rect x="345.43" y="318.6" width="20.32" height="3.5" fill="#3f9e4e"/>
<rect x="345.43" y="322.1" width="20.32" height="4.7" fill="#96dbc0"/>
<rect x="345.43" y="326.8" width="20.32" height="0.7" fill="#78d070"/>
<rect x="345.43" y="327.5" width="20.32" height="15.7" fill="#e7803b"/>
<rect x="345.43" y="329.3" width="20.32" height="1.2" fill="#f0a070"/>
<rect x="345.43" y="332.5" width="20.32" height="1.2" fill="#f0a070"/>
<rect x="345.43" y="335.8" width="20.32" height="1.2" fill="#f0a070"/>
<rect x="345.43" y="339.1" width="20.32" height="1.2" fill="#f0a070"/>
<rect x="365.75" y="261.3" width="20.32" height="20.1" fill="#1e3c88"/>
<rect x="365.75" y="261.3" width="20.32" height="1.6" fill="#2a2c80"/>
<rect x="365.75" y="279.8" width="20.32" height="1.6" fill="#2a2c80"/>
<rect x="365.75" y="264" width="20.32" height="1.5" fill="#5279c0"/>
<rect x="365.75" y="267.97" width="20.32" height="1.5" fill="#5279c0"/>
<rect x="365.75" y="271.94" width="20.32" height="1.5" fill="#5279c0"/>
<rect x="365.75" y="275.91" width="20.32" height="1.5" fill="#5279c0"/>
<rect x="365.75" y="281.4" width="20.32" height="1.5" fill="#a4db3e"/>
<rect x="365.75" y="282.9" width="20.32" height="19.4" fill="#bcd43e"/>
<rect x="365.75" y="289.7" width="20.32" height="1" fill="#c8dc6a"/>
<rect x="365.75" y="293.8" width="20.32" height="1" fill="#c8dc6a"/>
<rect x="365.75" y="297.9" width="20.32" height="1" fill="#c8dc6a"/>
<rect x="365.75" y="302.3" width="20.32" height="9.2" fill="#4a5a2c"/>
<rect x="365.75" y="305" width="20.32" height="1.2" fill="#7a8660"/>
<rect x="365.75" y="308.9" width="20.32" height="1.2" fill="#7a8660"/>
<rect x="365.75" y="311.5" width="20.32" height="2.5" fill="#3a6a2c"/>
<rect x="365.75" y="314" width="20.32" height="4.6" fill="#7eaa7e"/>
<rect x="365.75" y="316.2" width="20.32" height="0.8" fill="#a0c0a0"/>
<rect x="365.75" y="318.6" width="20.32" height="3.5" fill="#3f9e4e"/>
<rect x="365.75" y="322.1" width="20.32" height="4.7" fill="#96dbc0"/>
<rect x="365.75" y="326.8" width="20.32" height="0.7" fill="#78d070"/>
<rect x="365.75" y="327.5" width="20.32" height="15.7" fill="#e7803b"/>
<rect x="365.75" y="329.3" width="20.32" height="1.2" fill="#f0a070"/>
<rect x="365.75" y="332.5" width="20.32" height="1.2" fill="#f0a070"/>
<rect x="365.75" y="335.8" width="20.32" height="1.2" fill="#f0a070"/>
<rect x="365.75" y="339.1" width="20.32" height="1.2" fill="#f0a070"/>
<rect x="386.07" y="261.6" width="20.32" height="19.8" fill="#1e3c88"/>
<rect x="386.07" y="261.6" width="20.32" height="1.6" fill="#2a2c80"/>
<rect x="386.07" y="279.8" width="20.32" height="1.6" fill="#2a2c80"/>
<rect x="386.07" y="264" width="20.32" height="1.5" fill="#5279c0"/>
<rect x="386.07" y="267.97" width="20.32" height="1.5" fill="#5279c0"/>
<rect x="386.07" y="271.94" width="20.32" height="1.5" fill="#5279c0"/>
<rect x="386.07" y="275.91" width="20.32" height="1.5" fill="#5279c0"/>
<rect x="386.07" y="281.4" width="20.32" height="1.5" fill="#a4db3e"/>
<rect x="386.07" y="282.9" width="20.32" height="19.4" fill="#bcd43e"/>
<rect x="386.07" y="289.7" width="20.32" height="1" fill="#c8dc6a"/>
<rect x="386.07" y="293.8" width="20.32" height="1" fill="#c8dc6a"/>
<rect x="386.07" y="297.9" width="20.32" height="1" fill="#c8dc6a"/>
<rect x="386.07" y="302.3" width="20.32" height="9.2" fill="#4a5a2c"/>
<rect x="386.07" y="305" width="20.32" height="1.2" fill="#7a8660"/>
<rect x="386.07" y="308.9" width="20.32" height="1.2" fill="#7a8660"/>
<rect x="386.07" y="311.5" width="20.32" height="2.5" fill="#3a6a2c"/>
<rect x="386.07" y="314" width="20.32" height="4.6" fill="#7eaa7e"/>
<rect x="386.07" y="316.2" width="20.32" height="0.8" fill="#a0c0a0"/>
<rect x="386.07" y="318.6" width="20.32" height="3.5" fill="#3f9e4e"/>
<rect x="386.07" y="322.1" width="20.32" height="4.7" fill="#96dbc0"/>
<rect x="386.07" y="326.8" width="20.32" height="0.7" fill="#78d070"/>
<rect x="386.07" y="327.5" width="20.32" height="15.7" fill="#e7803b"/>
<rect x="386.07" y="329.3" width="20.32" height="1.2" fill="#f0a070"/>
<rect x="386.07" y="332.5" width="20.32" height="1.2" fill="#f0a070"/>
<rect x="386.07" y="335.8" width="20.32" height="1.2" fill="#f0a070"/>
<rect x="386.07" y="339.1" width="20.32" height="1.2" fill="#f0a070"/>
<rect x="406.39" y="262" width="20.32" height="23.7" fill="#1e3c88"/>
<rect x="406.39" y="262" width="20.32" height="1.6" fill="#2a2c80"/>
<rect x="406.39" y="284.1" width="20.32" height="1.6" fill="#2a2c80"/>
<rect x="406.39" y="264" width="20.32" height="1.5" fill="#5279c0"/>
<rect x="406.39" y="267.97" width="20.32" height="1.5" fill="#5279c0"/>
<rect x="406.39" y="271.94" width="20.32" height="1.5" fill="#5279c0"/>
<rect x="406.39" y="275.91" width="20.32" height="1.5" fill="#5279c0"/>
<rect x="406.39" y="279.88" width="20.32" height="1.5" fill="#5279c0"/>
<rect x="406.39" y="285.7" width="20.32" height="1.5" fill="#a4db3e"/>
<rect x="406.39" y="287.2" width="20.32" height="15.1" fill="#bcd43e"/>
<rect x="406.39" y="289.7" width="20.32" height="1" fill="#c8dc6a"/>
<rect x="406.39" y="293.8" width="20.32" height="1" fill="#c8dc6a"/>
<rect x="406.39" y="297.9" width="20.32" height="1" fill="#c8dc6a"/>
<rect x="406.39" y="302.3" width="20.32" height="9.2" fill="#4a5a2c"/>
<rect x="406.39" y="305" width="20.32" height="1.2" fill="#7a8660"/>
<rect x="406.39" y="308.9" width="20.32" height="1.2" fill="#7a8660"/>
<rect x="406.39" y="311.5" width="20.32" height="2.5" fill="#3a6a2c"/>
<rect x="406.39" y="314" width="20.32" height="4.6" fill="#7eaa7e"/>
<rect x="406.39" y="316.2" width="20.32" height="0.8" fill="#a0c0a0"/>
<rect x="406.39" y="318.6" width="20.32" height="3.5" fill="#3f9e4e"/>
<rect x="406.39" y="322.1" width="20.32" height="4.7" fill="#96dbc0"/>
<rect x="406.39" y="326.8" width="20.32" height="0.7" fill="#78d070"/>
<rect x="406.39" y="327.5" width="20.32" height="15.7" fill="#e7803b"/>
<rect x="406.39" y="329.3" width="20.32" height="1.2" fill="#f0a070"/>
<rect x="406.39" y="332.5" width="20.32" height="1.2" fill="#f0a070"/>
<rect x="406.39" y="335.8" width="20.32" height="1.2" fill="#f0a070"/>
<rect x="406.39" y="339.1" width="20.32" height="1.2" fill="#f0a070"/>
<rect x="426.71" y="261.6" width="20.32" height="19.8" fill="#1e3c88"/>
<rect x="426.71" y="261.6" width="20.32" height="1.6" fill="#2a2c80"/>
<rect x="426.71" y="279.8" width="20.32" height="1.6" fill="#2a2c80"/>
<rect x="426.71" y="264" width="20.32" height="1.5" fill="#5279c0"/>
<rect x="426.71" y="267.97" width="20.32" height="1.5" fill="#5279c0"/>
<rect x="426.71" y="271.94" width="20.32" height="1.5" fill="#5279c0"/>
<rect x="426.71" y="275.91" width="20.32" height="1.5" fill="#5279c0"/>
<rect x="426.71" y="281.4" width="20.32" height="1.5" fill="#a4db3e"/>
<rect x="426.71" y="282.9" width="20.32" height="19.4" fill="#bcd43e"/>
<rect x="426.71" y="289.7" width="20.32" height="1" fill="#c8dc6a"/>
<rect x="426.71" y="293.8" width="20.32" height="1" fill="#c8dc6a"/>
<rect x="426.71" y="297.9" width="20.32" height="1" fill="#c8dc6a"/>
<rect x="426.71" y="302.3" width="20.32" height="9.2" fill="#4a5a2c"/>
<rect x="426.71" y="305" width="20.32" height="1.2" fill="#7a8660"/>
<rect x="426.71" y="308.9" width="20.32" height="1.2" fill="#7a8660"/>
<rect x="426.71" y="311.5" width="20.32" height="2.5" fill="#3a6a2c"/>
<rect x="426.71" y="314" width="20.32" height="4.6" fill="#7eaa7e"/>
<rect x="426.71" y="316.2" width="20.32" height="0.8" fill="#a0c0a0"/>
<rect x="426.71" y="318.6" width="20.32" height="3.5" fill="#3f9e4e"/>
<rect x="426.71" y="322.1" width="20.32" height="4.7" fill="#96dbc0"/>
<rect x="426.71" y="326.8" width="20.32" height="0.7" fill="#78d070"/>
<rect x="426.71" y="327.5" width="20.32" height="15.7" fill="#e7803b"/>
<rect x="426.71" y="329.3" width="20.32" height="1.2" fill="#f0a070"/>
<rect x="426.71" y="332.5" width="20.32" height="1.2" fill="#f0a070"/>
<rect x="426.71" y="335.8" width="20.32" height="1.2" fill="#f0a070"/>
<rect x="426.71" y="339.1" width="20.32" height="1.2" fill="#f0a070"/>
<rect x="447.03" y="260.5" width="20.32" height="20.9" fill="#1e3c88"/>
<rect x="447.03" y="260.5" width="20.32" height="1.6" fill="#2a2c80"/>
<rect x="447.03" y="279.8" width="20.32" height="1.6" fill="#2a2c80"/>
<rect x="447.03" y="264" width="20.32" height="1.5" fill="#5279c0"/>
<rect x="447.03" y="267.97" width="20.32" height="1.5" fill="#5279c0"/>
<rect x="447.03" y="271.94" width="20.32" height="1.5" fill="#5279c0"/>
<rect x="447.03" y="275.91" width="20.32" height="1.5" fill="#5279c0"/>
<rect x="447.03" y="281.4" width="20.32" height="1.5" fill="#a4db3e"/>
<rect x="447.03" y="282.9" width="20.32" height="19.4" fill="#bcd43e"/>
<rect x="447.03" y="289.7" width="20.32" height="1" fill="#c8dc6a"/>
<rect x="447.03" y="293.8" width="20.32" height="1" fill="#c8dc6a"/>
<rect x="447.03" y="297.9" width="20.32" height="1" fill="#c8dc6a"/>
<rect x="447.03" y="302.3" width="20.32" height="9.2" fill="#4a5a2c"/>
<rect x="447.03" y="305" width="20.32" height="1.2" fill="#7a8660"/>
<rect x="447.03" y="308.9" width="20.32" height="1.2" fill="#7a8660"/>
<rect x="447.03" y="311.5" width="20.32" height="2.5" fill="#3a6a2c"/>
<rect x="447.03" y="314" width="20.32" height="4.6" fill="#7eaa7e"/>
<rect x="447.03" y="316.2" width="20.32" height="0.8" fill="#a0c0a0"/>
<rect x="447.03" y="318.6" width="20.32" height="3.5" fill="#3f9e4e"/>
<rect x="447.03" y="322.1" width="20.32" height="4.7" fill="#96dbc0"/>
<rect x="447.03" y="326.8" width="20.32" height="0.7" fill="#78d070"/>
<rect x="447.03" y="327.5" width="20.32" height="15.7" fill="#e7803b"/>
<rect x="447.03" y="329.3" width="20.32" height="1.2" fill="#f0a070"/>
<rect x="447.03" y="332.5" width="20.32" height="1.2" fill="#f0a070"/>
<rect x="447.03" y="335.8" width="20.32" height="1.2" fill="#f0a070"/>
<rect x="447.03" y="339.1" width="20.32" height="1.2" fill="#f0a070"/>
<rect x="467.34" y="261" width="20.32" height="20.4" fill="#1e3c88"/>
<rect x="467.34" y="261" width="20.32" height="1.6" fill="#2a2c80"/>
<rect x="467.34" y="279.8" width="20.32" height="1.6" fill="#2a2c80"/>
<rect x="467.34" y="264" width="20.32" height="1.5" fill="#5279c0"/>
<rect x="467.34" y="267.97" width="20.32" height="1.5" fill="#5279c0"/>
<rect x="467.34" y="271.94" width="20.32" height="1.5" fill="#5279c0"/>
<rect x="467.34" y="275.91" width="20.32" height="1.5" fill="#5279c0"/>
<rect x="467.34" y="281.4" width="20.32" height="1.5" fill="#a4db3e"/>
<rect x="467.34" y="282.9" width="20.32" height="19.4" fill="#bcd43e"/>
<rect x="467.34" y="289.7" width="20.32" height="1" fill="#c8dc6a"/>
<rect x="467.34" y="293.8" width="20.32" height="1" fill="#c8dc6a"/>
<rect x="467.34" y="297.9" width="20.32" height="1" fill="#c8dc6a"/>
<rect x="467.34" y="302.3" width="20.32" height="9.2" fill="#4a5a2c"/>
<rect x="467.34" y="305" width="20.32" height="1.2" fill="#7a8660"/>
<rect x="467.34" y="308.9" width="20.32" height="1.2" fill="#7a8660"/>
<rect x="467.34" y="311.5" width="20.32" height="2.5" fill="#3a6a2c"/>
<rect x="467.34" y="314" width="20.32" height="4.6" fill="#7eaa7e"/>
<rect x="467.34" y="316.2" width="20.32" height="0.8" fill="#a0c0a0"/>
<rect x="467.34" y="318.6" width="20.32" height="3.5" fill="#3f9e4e"/>
<rect x="467.34" y="322.1" width="20.32" height="4.7" fill="#96dbc0"/>
<rect x="467.34" y="326.8" width="20.32" height="0.7" fill="#78d070"/>
<rect x="467.34" y="327.5" width="20.32" height="15.7" fill="#e7803b"/>
<rect x="467.34" y="329.3" width="20.32" height="1.2" fill="#f0a070"/>
<rect x="467.34" y="332.5" width="20.32" height="1.2" fill="#f0a070"/>
<rect x="467.34" y="335.8" width="20.32" height="1.2" fill="#f0a070"/>
<rect x="467.34" y="339.1" width="20.32" height="1.2" fill="#f0a070"/>
<rect x="487.66" y="262" width="20.32" height="23.7" fill="#1e3c88"/>
<rect x="487.66" y="262" width="20.32" height="1.6" fill="#2a2c80"/>
<rect x="487.66" y="284.1" width="20.32" height="1.6" fill="#2a2c80"/>
<rect x="487.66" y="264" width="20.32" height="1.5" fill="#5279c0"/>
<rect x="487.66" y="267.97" width="20.32" height="1.5" fill="#5279c0"/>
<rect x="487.66" y="271.94" width="20.32" height="1.5" fill="#5279c0"/>
<rect x="487.66" y="275.91" width="20.32" height="1.5" fill="#5279c0"/>
<rect x="487.66" y="279.88" width="20.32" height="1.5" fill="#5279c0"/>
<rect x="487.66" y="285.7" width="20.32" height="1.5" fill="#a4db3e"/>
<rect x="487.66" y="287.2" width="20.32" height="15.1" fill="#bcd43e"/>
<rect x="487.66" y="289.7" width="20.32" height="1" fill="#c8dc6a"/>
<rect x="487.66" y="293.8" width="20.32" height="1" fill="#c8dc6a"/>
<rect x="487.66" y="297.9" width="20.32" height="1" fill="#c8dc6a"/>
<rect x="487.66" y="302.3" width="20.32" height="9.2" fill="#4a5a2c"/>
<rect x="487.66" y="305" width="20.32" height="1.2" fill="#7a8660"/>
<rect x="487.66" y="308.9" width="20.32" height="1.2" fill="#7a8660"/>
<rect x="487.66" y="311.5" width="20.32" height="2.5" fill="#3a6a2c"/>
<rect x="487.66" y="314" width="20.32" height="4.6" fill="#7eaa7e"/>
<rect x="487.66" y="316.2" width="20.32" height="0.8" fill="#a0c0a0"/>
<rect x="487.66" y="318.6" width="20.32" height="3.5" fill="#3f9e4e"/>
<rect x="487.66" y="322.1" width="20.32" height="4.7" fill="#96dbc0"/>
<rect x="487.66" y="326.8" width="20.32" height="0.7" fill="#78d070"/>
<rect x="487.66" y="327.5" width="20.32" height="15.7" fill="#e7803b"/>
<rect x="487.66" y="329.3" width="20.32" height="1.2" fill="#f0a070"/>
<rect x="487.66" y="332.5" width="20.32" height="1.2" fill="#f0a070"/>
<rect x="487.66" y="335.8" width="20.32" height="1.2" fill="#f0a070"/>
<rect x="487.66" y="339.1" width="20.32" height="1.2" fill="#f0a070"/>
<rect x="507.98" y="262.7" width="20.32" height="23" fill="#1e3c88"/>
<rect x="507.98" y="262.7" width="20.32" height="1.6" fill="#2a2c80"/>
<rect x="507.98" y="284.1" width="20.32" height="1.6" fill="#2a2c80"/>
<rect x="507.98" y="264" width="20.32" height="1.5" fill="#5279c0"/>
<rect x="507.98" y="267.97" width="20.32" height="1.5" fill="#5279c0"/>
<rect x="507.98" y="271.94" width="20.32" height="1.5" fill="#5279c0"/>
<rect x="507.98" y="275.91" width="20.32" height="1.5" fill="#5279c0"/>
<rect x="507.98" y="279.88" width="20.32" height="1.5" fill="#5279c0"/>
<rect x="507.98" y="285.7" width="20.32" height="1.5" fill="#a4db3e"/>
<rect x="507.98" y="287.2" width="20.32" height="15.1" fill="#bcd43e"/>
<rect x="507.98" y="289.7" width="20.32" height="1" fill="#c8dc6a"/>
<rect x="507.98" y="293.8" width="20.32" height="1" fill="#c8dc6a"/>
<rect x="507.98" y="297.9" width="20.32" height="1" fill="#c8dc6a"/>
<rect x="507.98" y="302.3" width="20.32" height="9.2" fill="#4a5a2c"/>
<rect x="507.98" y="305" width="20.32" height="1.2" fill="#7a8660"/>
<rect x="507.98" y="308.9" width="20.32" height="1.2" fill="#7a8660"/>
<rect x="507.98" y="311.5" width="20.32" height="2.5" fill="#3a6a2c"/>
<rect x="507.98" y="314" width="20.32" height="4.6" fill="#7eaa7e"/>
<rect x="507.98" y="316.2" width="20.32" height="0.8" fill="#a0c0a0"/>
<rect x="507.98" y="318.6" width="20.32" height="3.5" fill="#3f9e4e"/>
<rect x="507.98" y="322.1" width="20.32" height="4.7" fill="#96dbc0"/>
<rect x="507.98" y="326.8" width="20.32" height="0.7" fill="#78d070"/>
<rect x="507.98" y="327.5" width="20.32" height="15.7" fill="#e7803b"/>
<rect x="507.98" y="329.3" width="20.32" height="1.2" fill="#f0a070"/>
<rect x="507.98" y="332.5" width="20.32" height="1.2" fill="#f0a070"/>
<rect x="507.98" y="335.8" width="20.32" height="1.2" fill="#f0a070"/>
<rect x="507.98" y="339.1" width="20.32" height="1.2" fill="#f0a070"/>
<rect x="182.88" y="287.5" width="9" height="8.1" fill="#1aa0a0" fill-opacity="0.25"/>
<rect x="182.88" y="295.9" width="9" height="15.8" fill="#a050a8" fill-opacity="0.2"/>
<rect x="240.44" y="264" width="3.4" height="15.5" fill="#20a070" fill-opacity="0.4"/>
<rect x="240.44" y="283" width="3.4" height="13" fill="#9050a0" fill-opacity="0.25"/>
<rect x="240.44" y="320" width="3.4" height="7.9" fill="#109080" fill-opacity="0.45"/>
<rect x="240.44" y="327.9" width="3.4" height="15.5" fill="#e02080" fill-opacity="0.6"/>
<rect x="176.2" y="285.6" width="6.68" height="4.7" fill="#8cc28c"/>
<rect x="176.2" y="290.3" width="6.68" height="3.7" fill="#45a052"/>
<rect x="176.2" y="294" width="6.68" height="1.9" fill="#92dec6"/>
<rect x="176.2" y="295.9" width="6.68" height="2.3" fill="#efb4c2"/>
<rect x="176.2" y="298.2" width="6.68" height="7.5" fill="#aeab2a"/>
<rect x="176.2" y="305.7" width="6.68" height="5.1" fill="#fdf3f8"/>
<line x1="60.97" y1="261" x2="60.97" y2="307" stroke="#fff" stroke-opacity="0.35" stroke-width="1"/>
<line x1="81.29" y1="261" x2="81.29" y2="307" stroke="#fff" stroke-opacity="0.35" stroke-width="1"/>
<line x1="101.61" y1="261" x2="101.61" y2="307" stroke="#fff" stroke-opacity="0.35" stroke-width="1"/>
<line x1="121.93" y1="261" x2="121.93" y2="307" stroke="#fff" stroke-opacity="0.35" stroke-width="1"/>
<line x1="142.25" y1="261" x2="142.25" y2="307" stroke="#fff" stroke-opacity="0.35" stroke-width="1"/>
<line x1="162.57" y1="261" x2="162.57" y2="307" stroke="#fff" stroke-opacity="0.35" stroke-width="1"/>
<line x1="203.2" y1="260.5" x2="203.2" y2="367" stroke="#fff" stroke-opacity="0.4" stroke-width="1"/>
<line x1="223.52" y1="260.5" x2="223.52" y2="367" stroke="#fff" stroke-opacity="0.4" stroke-width="1"/>
<line x1="264.16" y1="261" x2="264.16" y2="343" stroke="#fff" stroke-opacity="0.45" stroke-width="1"/>
<line x1="284.48" y1="261" x2="284.48" y2="343" stroke="#fff" stroke-opacity="0.45" stroke-width="1"/>
<line x1="304.8" y1="261" x2="304.8" y2="343" stroke="#fff" stroke-opacity="0.45" stroke-width="1"/>
<line x1="325.11" y1="261" x2="325.11" y2="343" stroke="#fff" stroke-opacity="0.45" stroke-width="1"/>
<line x1="345.43" y1="261" x2="345.43" y2="343" stroke="#fff" stroke-opacity="0.45" stroke-width="1"/>
<line x1="365.75" y1="261" x2="365.75" y2="343" stroke="#fff" stroke-opacity="0.45" stroke-width="1"/>
<line x1="386.07" y1="261" x2="386.07" y2="343" stroke="#fff" stroke-opacity="0.45" stroke-width="1"/>
<line x1="406.39" y1="261" x2="406.39" y2="343" stroke="#fff" stroke-opacity="0.45" stroke-width="1"/>
<line x1="426.71" y1="261" x2="426.71" y2="343" stroke="#fff" stroke-opacity="0.45" stroke-width="1"/>
<line x1="447.03" y1="261" x2="447.03" y2="343" stroke="#fff" stroke-opacity="0.45" stroke-width="1"/>
<line x1="467.34" y1="261" x2="467.34" y2="343" stroke="#fff" stroke-opacity="0.45" stroke-width="1"/>
<line x1="487.66" y1="261" x2="487.66" y2="343" stroke="#fff" stroke-opacity="0.45" stroke-width="1"/>
<line x1="507.98" y1="261" x2="507.98" y2="343" stroke="#fff" stroke-opacity="0.45" stroke-width="1"/>
<rect x="47.5" y="287.5" width="6.7" height="8.1" fill="#e4fbfb"/>
<rect x="47.5" y="296" width="6.7" height="11" fill="#fdf0f6"/>
<rect x="54.2" y="215.9" width="474.1" height="175.8" fill="none" stroke="#1a1a1a" stroke-width="1"/>
<line x1="50.55" y1="391.7" x2="54.2" y2="391.7" stroke="#1a1a1a" stroke-width="1"/>
<text x="46.25" y="395.7" font-size="10" letter-spacing="0.25" text-anchor="end" stroke="#1a1a1a" stroke-width="0.2">-600</text>
<line x1="50.55" y1="364.65" x2="54.2" y2="364.65" stroke="#1a1a1a" stroke-width="1"/>
<text x="46.25" y="368.65" font-size="10" letter-spacing="0.25" text-anchor="end" stroke="#1a1a1a" stroke-width="0.2">-400</text>
<line x1="50.55" y1="337.61" x2="54.2" y2="337.61" stroke="#1a1a1a" stroke-width="1"/>
<text x="46.25" y="341.61" font-size="10" letter-spacing="0.25" text-anchor="end" stroke="#1a1a1a" stroke-width="0.2">-200</text>
<line x1="50.55" y1="310.56" x2="54.2" y2="310.56" stroke="#1a1a1a" stroke-width="1"/>
<text x="46.25" y="314.56" font-size="10" letter-spacing="0.25" text-anchor="end" stroke="#1a1a1a" stroke-width="0.2">0</text>
<line x1="50.55" y1="283.52" x2="54.2" y2="283.52" stroke="#1a1a1a" stroke-width="1"/>
<text x="46.25" y="287.52" font-size="10" letter-spacing="0.25" text-anchor="end" stroke="#1a1a1a" stroke-width="0.2">200</text>
<line x1="50.55" y1="256.47" x2="54.2" y2="256.47" stroke="#1a1a1a" stroke-width="1"/>
<text x="46.25" y="260.47" font-size="10" letter-spacing="0.25" text-anchor="end" stroke="#1a1a1a" stroke-width="0.2">400</text>
<line x1="50.55" y1="229.42" x2="54.2" y2="229.42" stroke="#1a1a1a" stroke-width="1"/>
<text x="46.25" y="233.42" font-size="10" letter-spacing="0.25" text-anchor="end" stroke="#1a1a1a" stroke-width="0.2">600</text>
<line x1="54.2" y1="391.7" x2="54.2" y2="395.35" stroke="#1a1a1a" stroke-width="1"/>
<text x="54.34" y="407.7" font-size="10" letter-spacing="0.28" text-anchor="middle" stroke="#1a1a1a" stroke-width="0.2">32,000</text>
<line x1="121.93" y1="391.7" x2="121.93" y2="395.35" stroke="#1a1a1a" stroke-width="1"/>
<text x="122.07" y="407.7" font-size="10" letter-spacing="0.28" text-anchor="middle" stroke="#1a1a1a" stroke-width="0.2">32,500</text>
<line x1="189.66" y1="391.7" x2="189.66" y2="395.35" stroke="#1a1a1a" stroke-width="1"/>
<text x="189.8" y="407.7" font-size="10" letter-spacing="0.28" text-anchor="middle" stroke="#1a1a1a" stroke-width="0.2">33,000</text>
<line x1="257.39" y1="391.7" x2="257.39" y2="395.35" stroke="#1a1a1a" stroke-width="1"/>
<text x="257.53" y="407.7" font-size="10" letter-spacing="0.28" text-anchor="middle" stroke="#1a1a1a" stroke-width="0.2">33,500</text>
<line x1="325.11" y1="391.7" x2="325.11" y2="395.35" stroke="#1a1a1a" stroke-width="1"/>
<text x="325.25" y="407.7" font-size="10" letter-spacing="0.28" text-anchor="middle" stroke="#1a1a1a" stroke-width="0.2">34,000</text>
<line x1="392.84" y1="391.7" x2="392.84" y2="395.35" stroke="#1a1a1a" stroke-width="1"/>
<text x="392.98" y="407.7" font-size="10" letter-spacing="0.28" text-anchor="middle" stroke="#1a1a1a" stroke-width="0.2">34,500</text>
<line x1="460.57" y1="391.7" x2="460.57" y2="395.35" stroke="#1a1a1a" stroke-width="1"/>
<text x="460.71" y="407.7" font-size="10" letter-spacing="0.28" text-anchor="middle" stroke="#1a1a1a" stroke-width="0.2">35,000</text>
<line x1="528.3" y1="391.7" x2="528.3" y2="395.35" stroke="#1a1a1a" stroke-width="1"/>
<text x="528.44" y="407.7" font-size="10" letter-spacing="0.28" text-anchor="middle" stroke="#1a1a1a" stroke-width="0.2">35,500</text>
<text x="291.25" y="208.7" font-size="11.75" text-anchor="middle" stroke="#1a1a1a" stroke-width="0.2">Column ID 450</text>
<text x="291.36" y="423.0" font-size="10" letter-spacing="0.22" text-anchor="middle" stroke="#1a1a1a" stroke-width="0.2">Stationing (m)</text>
<text x="0.1" y="0" font-size="10" letter-spacing="0.18" text-anchor="middle" stroke="#1a1a1a" stroke-width="0.2" transform="translate(15.0 303.8) rotate(-90)">Elevation (m)</text></svg>
</body></html>
